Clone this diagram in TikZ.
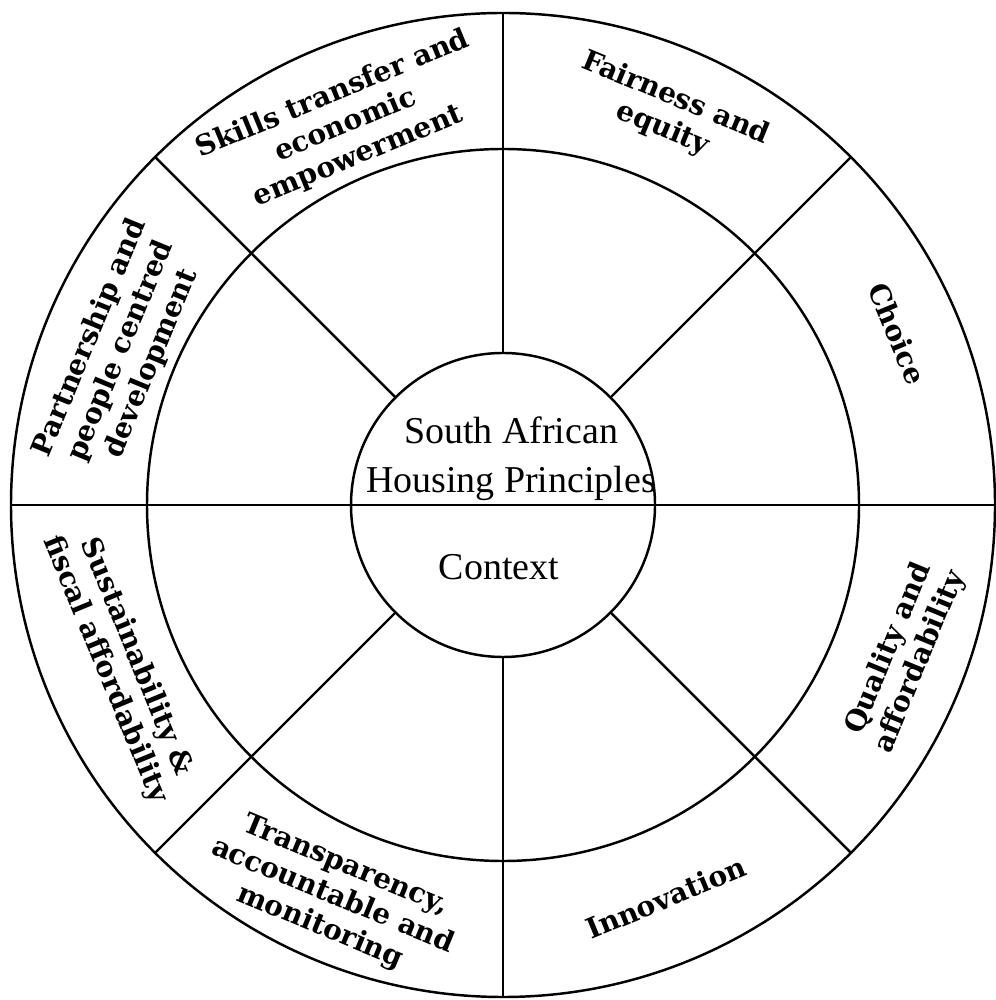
\documentclass[tikz,border=0pt]{standalone}
\usepackage{fontspec}
\setmainfont{Liberation Serif}
\newfontfamily\ringfont{DejaVu Serif}
\begin{document}
\begin{tikzpicture}[line width=0.7pt,
    ring/.style={font=\ringfont\bfseries\fontsize{8}{9.5}\selectfont, align=center, inner sep=0pt},
    hub/.style={font=\fontsize{10.8}{14}\selectfont, align=center, inner sep=0pt}]
    \useasboundingbox (-5.03,-4.95) rectangle (4.92,5.05);
    \draw (0,0) circle (4.92);
    \draw (0,0) circle (3.56);
    \draw (0,0) circle (1.52);
    \draw (-4.92,0) -- (4.92,0);
    \draw (90:1.52) -- (90:4.92);
    \draw (270:1.52) -- (270:4.92);
    \draw (45:1.52) -- (45:4.92);
    \draw (135:1.52) -- (135:4.92);
    \draw (225:1.52) -- (225:4.92);
    \draw (315:1.52) -- (315:4.92);
    \node[hub] (title) at (0.08,0.46) {South African\\Housing Principles};
    \node[hub, anchor=base] (context) at (-0.04,-0.75) {Context};
    \node[ring, rotate=22.5] (skills) at (112.5:4.11) {Skills transfer and\\economic\\empowerment};
    \node[ring, rotate=-22.5] (fairness) at (67:4.25) {Fairness and\\equity};
    \node[ring, rotate=-67.5] (choice) at (23.5:4.3) {Choice};
    \node[ring, rotate=67.5] (partnership) at (158:4.12) {Partnership and\\people centred\\development};
    \node[ring, rotate=-67.5] (sustain) at (202.5:4.14) {Sustainability \&\\fiscal affordability};
    \node[ring, rotate=-22.5] (transparency) at (246.5:4.27) {Transparency,\\accountable and\\monitoring};
    \node[ring, rotate=22.5] (innovation) at (292.5:4.25) {Innovation};
    \node[ring, rotate=67.5] (quality) at (339.5:4.29) {Quality and\\affordability};
\end{tikzpicture}
\end{document}
